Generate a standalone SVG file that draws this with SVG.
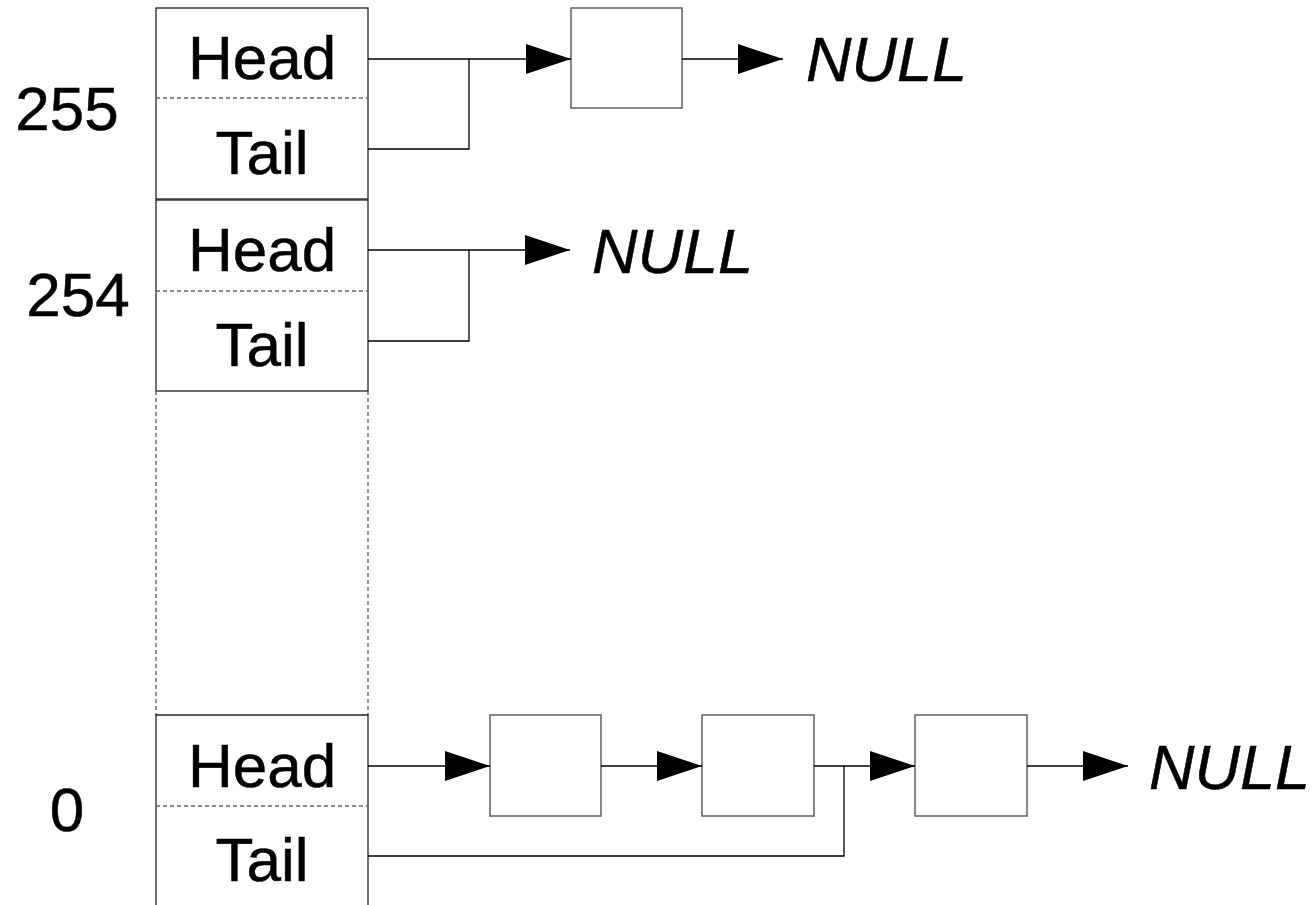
<svg xmlns="http://www.w3.org/2000/svg" width="1314" height="905" viewBox="0 0 1314 905">
  <style>
    .lbl { font-family: "Liberation Sans", Arial, sans-serif; font-size: 62px; fill: #000; stroke: #000; stroke-width: 0.5; }
    .null { font-family: "Liberation Sans", Arial, sans-serif; font-size: 63px; font-style: italic; fill: #000; stroke: #000; stroke-width: 0.5; }
    .cell { fill: #fff; stroke: #222; stroke-width: 1.3; }
    .div { stroke: #666; stroke-width: 1.4; stroke-dasharray: 4 3; fill: none; }
    .node { fill: #fff; stroke: #555; stroke-width: 1.4; }
    .wire { fill: none; stroke: #000; stroke-width: 1.3; }
  </style>
  <defs>
    <marker id="arrow" markerUnits="userSpaceOnUse" markerWidth="46" markerHeight="32" refX="45" refY="15" orient="auto">
      <path d="M0,0 L45,15 L0,30 Z" fill="#000"/>
    </marker>
  </defs>
  <rect width="1314" height="905" fill="#fff"/>

  <!-- bucket index labels -->
  <text class="lbl" x="67" y="130" text-anchor="middle">255</text>
  <text class="lbl" x="78" y="316" text-anchor="middle">254</text>
  <text class="lbl" x="67" y="831" text-anchor="middle">0</text>

  <!-- bucket 255 -->
  <g id="bucket-255">
    <rect class="cell" x="156" y="8" width="212" height="191"/>
    <line class="div" x1="156" y1="98" x2="368" y2="98"/>
    <text class="lbl" x="262" y="79" text-anchor="middle">Head</text>
    <text class="lbl" x="262" y="174" text-anchor="middle">Tail</text>
  </g>

  <!-- bucket 254 -->
  <g id="bucket-254">
    <rect class="cell" x="156" y="200" width="212" height="191"/>
    <line class="div" x1="156" y1="291" x2="368" y2="291"/>
    <text class="lbl" x="262" y="271" text-anchor="middle">Head</text>
    <text class="lbl" x="262" y="366" text-anchor="middle">Tail</text>
  </g>

  <!-- elided buckets -->
  <g id="bucket-gap">
    <path class="div" d="M156,391 V715 M368,391 V715"/>
  </g>

  <!-- bucket 0 -->
  <g id="bucket-0">
    <path class="cell" d="M156,910 V715 H368 V910"/>
    <line class="div" x1="156" y1="806" x2="368" y2="806"/>
    <text class="lbl" x="262" y="787" text-anchor="middle">Head</text>
    <text class="lbl" x="262" y="881" text-anchor="middle">Tail</text>
  </g>

  <!-- list nodes -->
  <g id="node-255-a"><rect class="node" x="571" y="8" width="111" height="100"/></g>
  <g id="node-0-a"><rect class="node" x="490" y="715" width="111" height="101"/></g>
  <g id="node-0-b"><rect class="node" x="702" y="715" width="112" height="101"/></g>
  <g id="node-0-c"><rect class="node" x="915" y="715" width="112" height="101"/></g>

  <!-- NULL terminators -->
  <g id="null-255"><text class="null" x="806" y="81">NULL</text></g>
  <g id="null-254"><text class="null" x="592" y="273">NULL</text></g>
  <g id="null-0"><text class="null" x="1149" y="789">NULL</text></g>

  <!-- connectors -->
  <g id="connectors">
    <path class="wire" d="M368,59 H571" marker-end="url(#arrow)"/>
    <path class="wire" d="M368,149 H469 V59"/>
    <path class="wire" d="M682,59 H783" marker-end="url(#arrow)"/>

    <path class="wire" d="M368,250 H570" marker-end="url(#arrow)"/>
    <path class="wire" d="M368,341 H469 V250"/>

    <path class="wire" d="M368,766 H490" marker-end="url(#arrow)"/>
    <path class="wire" d="M601,766 H702" marker-end="url(#arrow)"/>
    <path class="wire" d="M814,766 H915" marker-end="url(#arrow)"/>
    <path class="wire" d="M368,856 H844 V766"/>
    <path class="wire" d="M1027,766 H1128" marker-end="url(#arrow)"/>
  </g>
</svg>
